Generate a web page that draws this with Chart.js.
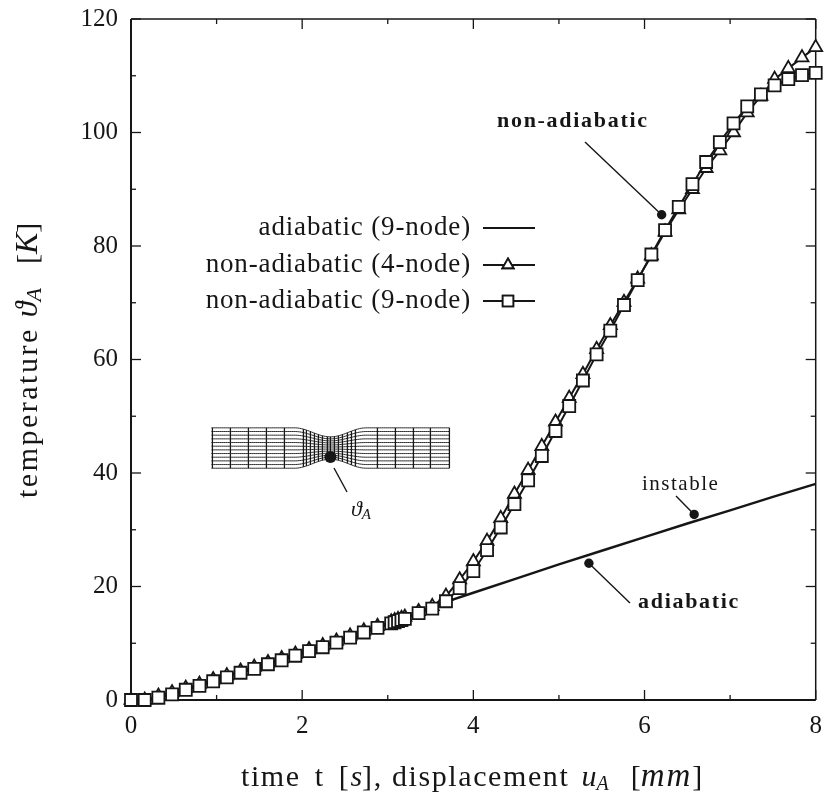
<!DOCTYPE html>
<html>
<head>
<meta charset="utf-8">
<title>Temperature vs time</title>
<script src="https://cdn.jsdelivr.net/npm/chart.js@4"></script>
<style>
    html, body { margin: 0; padding: 0; background: #fff; }
    #wrap { width: 826px; height: 798px; }
</style>
</head>
<body>
<div id="wrap"><canvas id="chart" width="826" height="798"></canvas></div>
<script>
// Data
const times = [0, 0.16, 0.32, 0.48, 0.64, 0.8, 0.96, 1.12, 1.28, 1.44, 1.6, 1.76, 1.92, 2.08, 2.24, 2.4, 2.56, 2.72, 2.88, 3.04,
    3.08, 3.12, 3.16, 3.2,
    3.36, 3.52, 3.68, 3.84, 4, 4.16, 4.32, 4.48, 4.64, 4.8, 4.96, 5.12, 5.28, 5.44, 5.6, 5.76, 5.92, 6.08, 6.24, 6.4, 6.56, 6.72, 6.88, 7.04, 7.2, 7.36, 7.52, 7.68, 7.84, 8];
const nonAdiabatic9 = [0, 0, 0.4, 1, 1.8, 2.5, 3.3, 4, 4.8, 5.5, 6.3, 7, 7.8, 8.6, 9.3, 10.1, 11, 11.9, 12.7, 13.5,
    13.7, 13.9, 14.1, 14.3,
    15.3, 16.1, 17.4, 19.7, 22.7, 26.4, 30.4, 34.5, 38.7, 43, 47.4, 51.8, 56.3, 60.9, 65.1, 69.6, 74, 78.5, 82.8, 86.9, 90.9, 94.8, 98.3, 101.6, 104.6, 106.7, 108.3, 109.4, 110.1, 110.5];
const nonAdiabatic4 = [0, 0, 0.7, 1.3, 2.1, 2.8, 3.6, 4.3, 5.1, 5.8, 6.6, 7.3, 8.1, 8.9, 9.6, 10.4, 11.3, 12.2, 13, 13.8,
    14, 14.2, 14.4, 14.6,
    15.6, 16.5, 18.3, 21.2, 24.4, 28, 32, 36.3, 40.5, 44.7, 49, 53.2, 57.4, 61.8, 66, 70.1, 74.2, 78.3, 82.5, 86.4, 90, 93.7, 96.8, 100, 103.5, 106.4, 109.4, 111.3, 113.2, 115];
const adiabaticTimes = [0, 0.32, 0.64, 0.96, 1.28, 1.6, 1.92, 2.24, 2.56, 2.88, 3.2, 3.52, 3.68, 4, 4.5, 5, 5.5, 6, 6.5, 7, 7.5, 8];
const adiabatic9 = [0, 0.4, 1.8, 3.3, 4.8, 6.3, 7.8, 9.3, 11, 12.7, 14.3, 16.1, 17.3, 18.9, 21.4, 23.9, 26.3, 28.7, 31.1, 33.4, 35.8, 38.1];

const xMajorTicks = [0, 2, 4, 6, 8];
const xMinorTicks = [1, 3, 5, 7];
const yMajorTicks = [0, 20, 40, 60, 80, 100, 120];
const yMinorTicks = [10, 30, 50, 70, 90, 110];
const seriesNames = ['adiabatic (9-node)', 'non-adiabatic (4-node)', 'non-adiabatic (9-node)'];

const INK = '#161616';
const SERIF = '"Liberation Serif", "DejaVu Serif", serif';

const toPoints = (xs, ys) => xs.map((x, i) => ({ x, y: ys[i] }));

// Draws text made of runs in different fonts, starting at x,y
function drawRuns(ctx, runs, x, y) {
    runs.forEach(run => {
        ctx.font = run.font;
        ctx.letterSpacing = run.spacing || '0px';
        ctx.wordSpacing = run.words || '0px';
        x += run.gap || 0;
        ctx.fillText(run.text, x, y + (run.dy || 0));
        x += ctx.measureText(run.text).width;
    });
    ctx.letterSpacing = '0px';
    ctx.wordSpacing = '0px';
}

function dot(ctx, x, y, r) {
    ctx.beginPath();
    ctx.arc(x, y, r, 0, Math.PI * 2);
    ctx.fill();
}

function segment(ctx, x1, y1, x2, y2, width) {
    ctx.lineWidth = width;
    ctx.beginPath();
    ctx.moveTo(x1, y1);
    ctx.lineTo(x2, y2);
    ctx.stroke();
}

// Frame with inward ticks on all four sides
const framePlugin = {
    id: 'frame',
    beforeDatasetsDraw(chart) {
        const { ctx, chartArea: a, scales } = chart;
        ctx.save();
        ctx.strokeStyle = INK;
        segment(ctx, a.left, a.top, a.left, a.bottom, 2);
        segment(ctx, a.left, a.bottom, a.right, a.bottom, 2);
        segment(ctx, a.left, a.top, a.right, a.top, 1.5);
        segment(ctx, a.right, a.top, a.right, a.bottom, 1.5);
        const xTick = (v, len) => {
            const px = scales.x.getPixelForValue(v);
            segment(ctx, px, a.bottom, px, a.bottom - len, 1.3);
            segment(ctx, px, a.top, px, a.top + len, 1.3);
        };
        const yTick = (v, len) => {
            const py = scales.y.getPixelForValue(v);
            segment(ctx, a.left, py, a.left + len, py, 1.3);
            segment(ctx, a.right, py, a.right - len, py, 1.3);
        };
        xMajorTicks.forEach(v => xTick(v, 10));
        xMinorTicks.forEach(v => xTick(v, 5));
        yMajorTicks.forEach(v => yTick(v, 10));
        yMinorTicks.forEach(v => yTick(v, 5));
        ctx.restore();
    }
};

// Necked specimen mesh, anchored on the point it marks
function drawMesh(ctx, cx, cy) {
    const halfLen = 119;
    const columns = [-118, -100, -82, -64, -46, -27, -24, -20, -16, -12, -8, -3, 0, 4, 8, 12, 17, 21, 25, 47, 65, 83, 100, 119];
    const halfHeight = u => {
        const d = Math.abs(u);
        if (d > 36) return 20.2;
        return 20.2 - 9 * (1 + Math.cos(Math.PI * d / 36)) / 2;
    };
    ctx.strokeStyle = INK;
    // horizontal lines
    for (let row = 0; row <= 11; row++) {
        const f = row / 11 * 2 - 1;
        ctx.lineWidth = 0.9;
        ctx.beginPath();
        for (let u = -halfLen; u <= halfLen; u += 2) {
            const px = cx + u, py = cy + f * halfHeight(u);
            if (u === -halfLen) ctx.moveTo(px, py); else ctx.lineTo(px, py);
        }
        ctx.stroke();
    }
    // vertical lines
    columns.forEach(u => {
        const h = halfHeight(u);
        segment(ctx, cx + u, cy - h, cx + u, cy + h, 1.3);
    });
}

// Legend, callouts and axis titles
const notesPlugin = {
    id: 'notes',
    afterDatasetsDraw(chart) {
        const { ctx, scales } = chart;
        const X = v => scales.x.getPixelForValue(v);
        const Y = v => scales.y.getPixelForValue(v);
        ctx.save();
        ctx.fillStyle = INK;
        ctx.strokeStyle = INK;
        ctx.textBaseline = 'alphabetic';

        // legend
        const rows = [235, 272, 308];
        seriesNames.forEach((name, i) => {
            ctx.font = '27px ' + SERIF;
            ctx.letterSpacing = '0.85px';
            ctx.textAlign = 'right';
            ctx.fillText(name, 471, rows[i]);
            ctx.textAlign = 'left';
            const ly = rows[i] - 7;
            segment(ctx, 483, ly, 535, ly, 2);
            if (i > 0) {
                ctx.fillStyle = '#fff';
                ctx.lineWidth = 1.8;
                Chart.helpers.drawPoint(ctx, {
                    pointStyle: i === 1 ? 'triangle' : 'rect',
                    radius: i === 1 ? 6.5 : 7.5,
                    rotation: 0,
                    borderWidth: 1.8
                }, 508, ly);
                ctx.fill();
                ctx.stroke();
                ctx.fillStyle = INK;
            }
        });
        ctx.letterSpacing = '0px';

        // callouts
        ctx.textAlign = 'left';
        dot(ctx, X(6.2), Y(85.5), 4.7);
        dot(ctx, X(6.58), Y(32.7), 4.7);
        dot(ctx, X(5.35), Y(24.1), 4.7);
        segment(ctx, 585, 142, X(6.2), Y(85.5), 1.4);
        segment(ctx, X(6.58), Y(32.7), 676, 496, 1.4);
        segment(ctx, X(5.35), Y(24.1), 630, 603, 1.4);
        ctx.font = 'bold 22px ' + SERIF;
        ctx.letterSpacing = '1.7px';
        ctx.fillText('non-adiabatic', 497, 127);
        ctx.fillText('adiabatic', 638, 608);
        ctx.font = '21px ' + SERIF;
        ctx.letterSpacing = '1.5px';
        ctx.fillText('instable', 642, 490);
        ctx.letterSpacing = '0px';

        // inset mesh
        drawMesh(ctx, X(2.33), Y(44.4));
        dot(ctx, X(2.33), Y(42.8), 6);
        segment(ctx, 334, 468, 347, 492, 1.4);
        drawRuns(ctx, [
            { text: '\u03D1', font: 'italic 22px ' + SERIF },
            { text: 'A', font: 'italic 15px ' + SERIF, dy: 3 }
        ], 351, 516);

        // axis titles
        drawRuns(ctx, [
            { text: 'time t [', font: '30px ' + SERIF, spacing: '1.6px', words: '5px' },
            { text: 's', font: 'italic 30px ' + SERIF },
            { text: '], displacement ', font: '30px ' + SERIF, spacing: '1.6px' },
            { text: 'u', font: 'italic 30px ' + SERIF, gap: 3 },
            { text: 'A', font: 'italic 20px ' + SERIF, dy: 4 },
            { text: '[', font: '30px ' + SERIF, gap: 22 },
            { text: 'mm', font: 'italic 33px ' + SERIF, spacing: '2px' },
            { text: ']', font: '30px ' + SERIF }
        ], 241, 786);

        ctx.translate(37, 498);
        ctx.rotate(-Math.PI / 2);
        drawRuns(ctx, [
            { text: 'temperature ', font: '30px ' + SERIF, spacing: '2.5px' },
            { text: '\u03D1', font: 'italic 32px ' + SERIF },
            { text: 'A', font: 'italic 22px ' + SERIF, dy: 4 },
            { text: '[', font: '30px ' + SERIF, gap: 24 },
            { text: 'K', font: 'italic 32px ' + SERIF },
            { text: ']', font: '30px ' + SERIF }
        ], 0, 0);
        ctx.restore();
    }
};

// Keep the plot area where the axis sizes put it, whatever the labels overhang
function fixBox(scale, prop, size) {
    scale[prop] = size;
    scale.paddingTop = scale.paddingBottom = scale.paddingLeft = scale.paddingRight = 0;
}

function initChart() {
    const ctx = document.getElementById('chart').getContext('2d');
    new Chart(ctx, {
        type: 'scatter',
        data: {
            datasets: [
                {
                    label: seriesNames[2],
                    data: toPoints(times, nonAdiabatic9),
                    showLine: true,
                    order: 1,
                    borderColor: INK,
                    borderWidth: 2,
                    backgroundColor: '#fff',
                    pointStyle: 'rect',
                    pointRadius: 8.5,
                    pointBorderWidth: 1.8,
                    pointBorderColor: INK,
                    pointBackgroundColor: '#fff',
                    clip: false
                },
                {
                    label: seriesNames[1],
                    data: toPoints(times, nonAdiabatic4),
                    showLine: true,
                    order: 2,
                    borderColor: INK,
                    borderWidth: 2,
                    backgroundColor: '#fff',
                    pointStyle: 'triangle',
                    pointRadius: 7.5,
                    pointBorderWidth: 1.8,
                    pointBorderColor: INK,
                    pointBackgroundColor: '#fff',
                    clip: false
                },
                {
                    label: seriesNames[0],
                    data: toPoints(adiabaticTimes, adiabatic9),
                    showLine: true,
                    order: 3,
                    borderColor: INK,
                    borderWidth: 2.4,
                    pointRadius: 0,
                    clip: false
                }
            ]
        },
        options: {
            responsive: false,
            animation: false,
            layout: { padding: { top: 19, right: 9, left: 0, bottom: 0 } },
            plugins: { legend: { display: false }, tooltip: { enabled: false } },
            scales: {
                x: {
                    type: 'linear',
                    min: 0,
                    max: 8,
                    afterFit: s => fixBox(s, 'height', 98),
                    grid: { display: false, drawTicks: false },
                    border: { display: false },
                    ticks: {
                        stepSize: 2,
                        padding: 11,
                        color: INK,
                        maxRotation: 0,
                        font: { family: SERIF, size: 25 }
                    }
                },
                y: {
                    type: 'linear',
                    min: 0,
                    max: 120,
                    afterFit: s => fixBox(s, 'width', 131),
                    grid: { display: false, drawTicks: false },
                    border: { display: false },
                    ticks: {
                        stepSize: 20,
                        padding: 13,
                        color: INK,
                        font: { family: SERIF, size: 25 }
                    }
                }
            }
        },
        plugins: [framePlugin, notesPlugin]
    });
}

document.addEventListener('DOMContentLoaded', initChart);
</script>
</body>
</html>
